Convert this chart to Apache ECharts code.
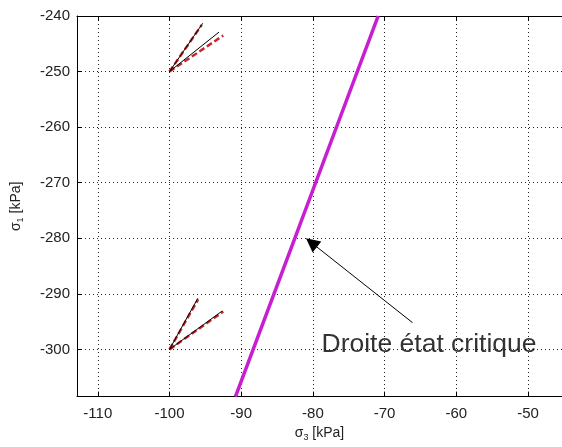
<!DOCTYPE html>
<html><head><meta charset="utf-8">
<script src="https://cdn.jsdelivr.net/npm/echarts@6/dist/echarts.min.js"></script>
<style>html,body{margin:0;padding:0;background:#fff}#c{width:562px;height:447px}</style>
</head><body><div id="c"></div>
<script>
// ---- data ----
const xTicks = [-110, -100, -90, -80, -70, -60, -50];
const yTicks = [-300, -290, -280, -270, -260, -250, -240];
const xRange = [-112.9, -45.26];
const yRange = [-308.5, -240];

// critical state line
const criticalX = [-90.8, -70.9];
const criticalY = [-308.5, -240];

// stress paths starting at (-100,-250)
const upperBlack1X = [-100, -95.36], upperBlack1Y = [-250, -241.3];
const upperBlack2X = [-100, -93.1],  upperBlack2Y = [-250, -242.9];
const upperRed1X   = [-100, -95.5],  upperRed1Y   = [-250, -241.6];
const upperRed2X   = [-100, -92.5],  upperRed2Y   = [-250, -243.5];

// stress paths starting at (-100,-300)
const lowerBlack1X = [-100, -96.05], lowerBlack1Y = [-300, -290.8];
const lowerBlack2X = [-100, -92.65], lowerBlack2Y = [-300, -293.1];
const lowerRed1X   = [-100, -96.0],  lowerRed1Y   = [-300, -291.0];
const lowerRed2X   = [-100, -92.5],  lowerRed2Y   = [-300, -293.2];

// annotation
const annotationText = 'Droite état critique';
const arrowFrom = [-66.1, -295.2];
const arrowTo = [-80.2, -280.8];
const textAnchor = [-78.8, -299.1];

// ---- chart ----
const zip = (xs, ys) => xs.map((x, i) => [x, ys[i]]);
const FONT = 'Liberation Sans, Arial, sans-serif';

function lineSeries(xs, ys, color, width, type, z) {
  return {
    type: 'line', data: zip(xs, ys), showSymbol: false, symbol: 'none',
    lineStyle: { color, width, type }, z: z || 2, animation: false, silent: true,
    clip: true
  };
}

const chart = echarts.init(document.getElementById('c'), null, { renderer: 'canvas' });
const gridLine = { show: true, lineStyle: { color: '#222', width: 1, type: [1, 3] } };

chart.setOption({
  animation: false,
  backgroundColor: '#fff',
  grid: { left: 77, top: 16, right: 0, bottom: 46, containLabel: false },
  xAxis: [{
    type: 'value', min: xRange[0], max: xRange[1], position: 'bottom',
    name: '{a|σ}{s|3}{a| [kPa]}', nameLocation: 'middle', nameGap: 28,
    nameTextStyle: { rich: {
      a: { fontFamily: FONT, fontSize: 14, color: '#222' },
      s: { fontFamily: FONT, fontSize: 9, color: '#222', padding: [8, 0, 0, 0] } } },
    axisLine: { show: true, onZero: false, lineStyle: { color: '#000', width: 1 } },
    axisTick: { show: true, inside: true, length: 5, customValues: xTicks, lineStyle: { color: '#000' } },
    axisLabel: { show: true, customValues: xTicks, margin: 10, fontFamily: FONT, fontSize: 15, color: '#222' },
    splitLine: gridLine
  }, {
    type: 'value', min: xRange[0], max: xRange[1], position: 'top',
    axisLine: { show: true, onZero: false, lineStyle: { color: '#000', width: 1 } },
    axisTick: { show: true, inside: true, length: 5, customValues: xTicks, lineStyle: { color: '#000' } },
    axisLabel: { show: false }, splitLine: { show: false }
  }],
  yAxis: [{
    type: 'value', min: yRange[0], max: yRange[1], position: 'left',
    name: '{a|σ}{s|1}{a| [kPa]}', nameLocation: 'middle', nameGap: 52, nameRotate: 90,
    nameTextStyle: { rich: {
      a: { fontFamily: FONT, fontSize: 14, color: '#222' },
      s: { fontFamily: FONT, fontSize: 9, color: '#222', padding: [8, 0, 0, 0] } } },
    axisLine: { show: true, onZero: false, lineStyle: { color: '#000', width: 1 } },
    axisTick: { show: true, inside: true, length: 5, customValues: yTicks, lineStyle: { color: '#000' } },
    axisLabel: { show: true, customValues: yTicks, margin: 7, fontFamily: FONT, fontSize: 15, color: '#222' },
    splitLine: gridLine
  }],
  series: [
    lineSeries(criticalX, criticalY, '#c81ed2', 3.5, 'solid', 3),
    lineSeries(upperRed1X, upperRed1Y, '#c8282d', 2.5, [6, 3], 2),
    lineSeries(upperRed2X, upperRed2Y, '#c8282d', 2.5, [6, 3], 2),
    lineSeries(upperBlack1X, upperBlack1Y, '#000', 1, 'solid', 4),
    lineSeries(upperBlack2X, upperBlack2Y, '#000', 1, 'solid', 4),
    lineSeries(lowerRed1X, lowerRed1Y, '#c8282d', 2.5, [6, 3], 2),
    lineSeries(lowerRed2X, lowerRed2Y, '#c8282d', 2.5, [6, 3], 2),
    lineSeries(lowerBlack1X, lowerBlack1Y, '#000', 1, 'solid', 4),
    lineSeries(lowerBlack2X, lowerBlack2Y, '#000', 1, 'solid', 4),
    {
      type: 'lines', coordinateSystem: 'cartesian2d', silent: true, z: 5,
      symbol: ['none', 'triangle'], symbolSize: 14,
      lineStyle: { color: '#000', width: 1, opacity: 1, curveness: 0 },
      itemStyle: { color: '#000' },
      data: [{ coords: [arrowFrom, arrowTo] }]
    },
    {
      type: 'scatter', symbolSize: 0, silent: true, z: 6,
      data: [textAnchor],
      label: {
        show: true, formatter: annotationText, position: [0, 0],
        align: 'left', verticalAlign: 'middle',
        fontFamily: FONT, fontSize: 26.5, color: '#000'
      }
    }
  ]
});
</script>
</body></html>
